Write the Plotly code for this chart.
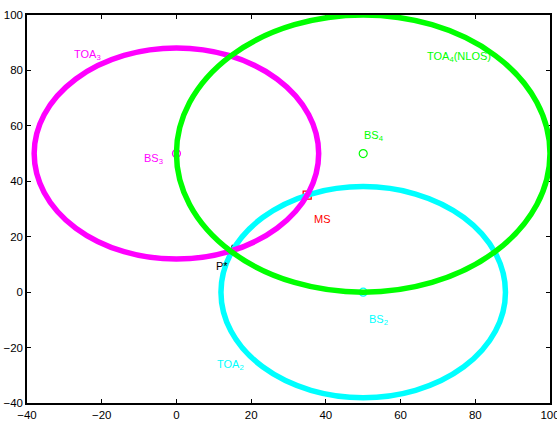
import plotly.graph_objects as go

# Base station positions and measured TOA ranges
bs_x = [50, 0, 50]
bs_y = [0, 50, 50]
toa_radius = [38.08, 38.08, 50.0]
colors = ["#00FFFF", "#FF00FF", "#00FF00"]

# Mobile station and estimated position
ms_x, ms_y = [35], [35]
p_x, p_y = [15], [15]

x_ticks = [-40, -20, 0, 20, 40, 60, 80, 100]
y_ticks = [-40, -20, 0, 20, 40, 60, 80, 100]

FONT = "Liberation Sans, Arial, sans-serif"

fig = go.Figure()

# TOA range circles
for cx, cy, r, c in zip(bs_x, bs_y, toa_radius, colors):
    fig.add_shape(type="circle", xref="x", yref="y",
                  x0=cx - r, x1=cx + r, y0=cy - r, y1=cy + r,
                  line=dict(color=c, width=5.5), layer="above")

# Base stations
for cx, cy, c in zip(bs_x, bs_y, colors):
    fig.add_trace(go.Scatter(x=[cx], y=[cy], mode="markers",
                             marker=dict(symbol="circle-open", size=8,
                                         color=c, line=dict(width=1.2)),
                             showlegend=False, cliponaxis=False))

fig.add_trace(go.Scatter(x=ms_x, y=ms_y, mode="markers",
                         marker=dict(symbol="square-open", size=8, color="red",
                                     line=dict(width=1.3)),
                         showlegend=False))
fig.add_trace(go.Scatter(x=p_x, y=p_y, mode="markers",
                         marker=dict(symbol="star-open", size=8, color="black",
                                     line=dict(width=1.3)),
                         showlegend=False))

labels = [
    ("TOA<sub>3</sub>", -23.7, 85.6, colors[1]),
    ("BS<sub>3</sub>", -6.2, 48.1, colors[1]),
    ("P*", 12.3, 9.4, "black"),
    ("MS", 39.1, 26.4, "red"),
    ("BS<sub>4</sub>", 52.9, 56.4, colors[2]),
    ("BS<sub>2</sub>", 54.0, -10.0, colors[0]),
    ("TOA<sub>2</sub>", 14.4, -26.3, colors[0]),
    ("TOA<sub>4</sub>(NLOS)", 75.6, 84.8, colors[2]),
]
for txt, x, y, c in labels:
    fig.add_annotation(x=x, y=y, text=txt, showarrow=False, xanchor="center",
                       yanchor="middle", font=dict(family=FONT, size=11, color=c))

axis_common = dict(showline=True, linecolor="black", linewidth=1.5, mirror="ticks",
                   ticks="inside", ticklen=4, tickcolor="black", tickwidth=1,
                   showgrid=False, zeroline=False, ticklabeloverflow="allow",
                   automargin=False,
                   tickfont=dict(family=FONT, size=11.5, color="black"))

fig.update_xaxes(range=[-40, 100], tickvals=x_ticks, **axis_common)
fig.update_yaxes(range=[-40, 100], tickvals=y_ticks, **axis_common)

fig.update_layout(width=557, height=425,
                  margin=dict(l=27, r=7, t=15, b=22, autoexpand=False),
                  plot_bgcolor="white", paper_bgcolor="white")

fig.write_html("out.html")
